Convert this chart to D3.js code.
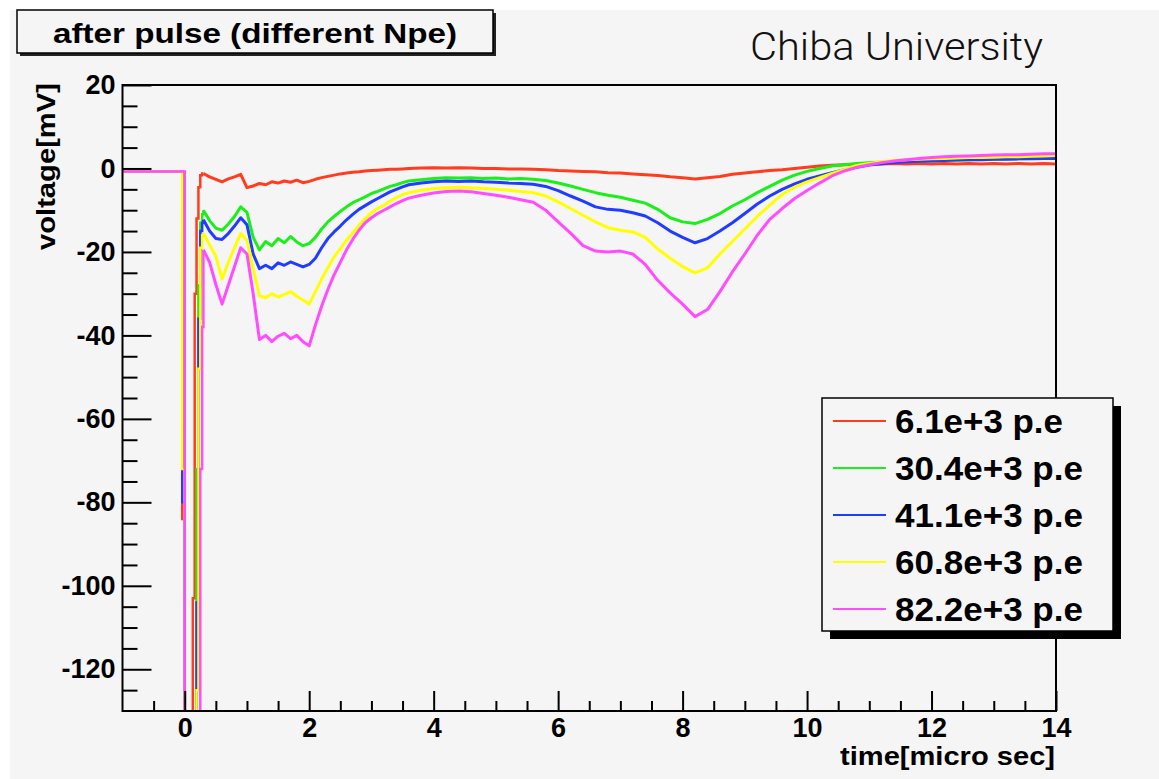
<!DOCTYPE html>
<html>
<head>
<meta charset="utf-8">
<script src="https://cdn.jsdelivr.net/npm/d3@7"></script>
<style>
  html, body { margin: 0; padding: 0; background: #fff; }
  svg { display: block; }
</style>
</head>
<body>
<div id="chart"></div>
<script>
// Serien: Namen, Farben
const seriesNames = ['6.1e+3 p.e', '30.4e+3 p.e', '41.1e+3 p.e', '60.8e+3 p.e', '82.2e+3 p.e'];
const seriesColors = ['#ff3c1e', '#1aef1a', '#1f3cff', '#ffff00', '#ff4cff'];

// Achsen
const xDomain = [-1, 14];
const yDomain = [-130, 20];
const xTicks = [0, 2, 4, 6, 8, 10, 12, 14];
const yTicks = [20, 0, -20, -40, -60, -80, -100, -120];

// Pulsbereich (Stufen), -200 = ausserhalb des Bildes
const pulseTime = [-1.0, -0.04, 0.0, 0.13, 0.16, 0.19, 0.22, 0.25, 0.28];
const pulseRed = [-0.7, -84, -200, -103, -30, -12, -4.5, -1.6, -1.2];
const pulseGreen = [-0.7, -62, -200, -200, -200, -72, -28, -13, -11];
const pulseBlue = [-0.7, -80, -200, -200, -200, -104, -36, -15, -13];
const pulseYellow = [-0.7, -72, -200, -200, -200, -125, -48, -19, -16];
const pulseMagenta = [-0.7, -0.7, -200, -200, -200, -200, -200, -72, -38];

// Nachpulse (micro sec / mV)
const bodyTime = [0.3, 0.4, 0.5, 0.6, 0.7, 0.8, 0.9, 1.0, 1.1, 1.2, 1.3, 1.4, 1.5, 1.6, 1.7, 1.8, 1.9, 2.0, 2.1, 2.2,
  2.3, 2.4, 2.5, 2.6, 2.7, 2.8, 2.9, 3.0, 3.1, 3.2, 3.3, 3.4, 3.5, 3.6,
  3.8, 4.0, 4.2, 4.4, 4.6, 4.8, 5.0, 5.2, 5.4, 5.6, 5.8, 6.0, 6.2, 6.4, 6.6, 6.8, 7.0, 7.2, 7.4, 7.6, 7.8, 8.0,
  8.2, 8.4, 8.6, 8.8, 9.0, 9.2, 9.4, 9.6, 9.8, 10.0, 10.2, 10.4, 10.6, 10.8, 11.0, 11.2, 11.4, 11.6, 11.8, 12.0,
  12.2, 12.4, 12.6, 12.8, 13.0, 13.2, 13.4, 13.6, 13.8, 14.0];
const bodyRed = [-1.2, -2.0, -2.6, -3.2, -2.5, -2.0, -1.4, -4.6, -4.2, -3.6, -3.9, -3.2, -3.5, -3.0, -3.3, -2.8, -3.4, -3.1, -2.6, -2.2,
  -1.9, -1.6, -1.3, -1.1, -0.9, -0.8, -0.6, -0.5, -0.4, -0.3, -0.2, -0.2, -0.1, 0.0,
  0.1, 0.2, 0.1, 0.2, 0.1, 0.0, 0.0, -0.1, -0.1, -0.2, -0.3, -0.5, -0.6, -0.7, -0.8, -1.0, -1.1, -1.3, -1.5, -1.7, -2.0, -2.2,
  -2.5, -2.2, -1.9, -1.4, -1.1, -0.8, -0.5, -0.3, 0.0, 0.3, 0.6, 0.8, 0.9, 1.0, 1.1, 1.1, 1.2, 1.1, 1.2, 1.1,
  1.2, 1.1, 1.2, 1.1, 1.2, 1.1, 1.2, 1.1, 1.2, 1.1];
const bodyGreen = [-10, -12.5, -14.3, -14.8, -13.3, -11.5, -9.2, -10.5, -16.5, -19.5, -17.5, -18.5, -16.8, -17.8, -16.3, -17.6, -18.5, -18.0, -16.5, -14.5,
  -12.8, -11.5, -10.3, -9.2, -8.2, -7.5, -6.8, -6.0, -5.5, -4.9, -4.3, -3.9, -3.4, -3.0,
  -2.7, -2.4, -2.2, -2.3, -2.2, -2.4, -2.3, -2.5, -2.4, -2.6, -2.9, -3.5, -4.2, -5.0, -5.8, -6.4, -6.9, -7.6, -8.3, -9.8, -11.8, -12.8,
  -13.2, -12.2, -10.8, -9.0, -7.5, -5.8, -4.3, -2.8, -1.6, -0.7, 0.0, 0.6, 0.9, 1.2, 1.4, 1.5, 1.6, 1.7, 1.8, 1.9,
  2.0, 2.0, 2.1, 2.2, 2.2, 2.3, 2.3, 2.4, 2.4, 2.5];
const bodyBlue = [-12.3, -15, -16.8, -17.0, -15.6, -13.8, -11.8, -13.5, -20.5, -24.0, -23.2, -24.0, -22.6, -23.2, -22.4, -23.0, -23.6, -23.0, -21.5, -19.0,
  -16.8, -15.2, -13.8, -12.3, -11.0, -9.8, -8.9, -8.0, -7.2, -6.4, -5.6, -5.0, -4.4, -3.9,
  -3.5, -3.2, -3.0, -3.1, -3.0, -3.2, -3.3, -3.5, -3.6, -3.8, -4.3, -5.3, -6.6, -7.8, -9.2, -9.8, -10.0, -10.6, -11.4, -13.0, -15.0, -16.5,
  -17.8, -16.8, -15.0, -13.0, -10.8, -8.5, -6.6, -5.0, -3.7, -2.6, -1.8, -1.0, -0.3, 0.3, 0.8, 1.1, 1.4, 1.6, 1.7, 1.8,
  1.9, 2.0, 2.1, 2.1, 2.2, 2.2, 2.3, 2.3, 2.4, 2.4];
const bodyYellow = [-15.5, -18.3, -21.0, -26.5, -22.5, -19.0, -15.6, -17.2, -24.0, -30.5, -31.0, -30.0, -30.8, -30.2, -29.5, -30.6, -31.5, -32.5, -29.5, -26.5,
  -23.8, -21.2, -19.2, -17.2, -15.4, -13.6, -12.0, -10.6, -9.6, -8.8, -7.8, -7.0, -6.3, -5.8,
  -5.2, -4.8, -4.6, -4.5, -4.6, -4.8, -5.0, -5.2, -5.5, -5.8, -6.6, -8.0, -9.6, -11.2, -12.8, -14.2, -14.8, -15.2, -16.5, -19.3, -21.5, -23.5,
  -25.0, -23.8, -20.5, -17.5, -14.5, -11.5, -8.8, -6.2, -4.5, -3.2, -2.2, -1.2, -0.2, 0.7, 1.2, 1.6, 1.9, 2.1, 2.2, 2.3,
  2.4, 2.5, 2.6, 2.6, 2.7, 2.8, 2.8, 2.9, 3.0, 3.1];
const bodyMagenta = [-19.5, -22.5, -27.8, -32.5, -28.0, -23.5, -19.0, -20.5, -30.0, -41.0, -40.0, -41.5, -40.2, -39.5, -40.8, -40.0, -41.5, -42.5, -37.5, -33.0,
  -29.0, -25.5, -22.5, -19.5, -17.0, -14.8, -13.0, -11.8, -10.8, -10.0, -9.2, -8.4, -7.7, -7.1,
  -6.4, -5.9, -5.5, -5.4, -5.6, -6.0, -6.4, -6.9, -7.5, -8.1, -10.0, -12.8, -15.5, -18.5, -19.8, -20.0, -19.8, -20.5, -23.0, -26.8, -29.8, -32.5,
  -35.5, -33.8, -29.5, -24.8, -20.5, -16.0, -12.2, -9.6, -7.2, -5.3, -3.5, -1.8, -0.6, 0.3, 0.9, 1.4, 1.8, 2.1, 2.4, 2.6,
  2.8, 2.9, 3.0, 3.1, 3.2, 3.3, 3.3, 3.4, 3.5, 3.5];

const pulseValues = [pulseRed, pulseGreen, pulseBlue, pulseYellow, pulseMagenta];
const bodyValues = [bodyRed, bodyGreen, bodyBlue, bodyYellow, bodyMagenta];

const series = seriesNames.map((name, i) => ({
  name,
  color: seriesColors[i],
  pulse: pulseTime.map((t, j) => [t, pulseValues[i][j]]).concat([[bodyTime[0], bodyValues[i][0]]]),
  body: bodyTime.map((t, j) => [t, bodyValues[i][j]]),
}));

const width = 1159;
const height = 779;
const frame = {left: 122.5, right: 1056, top: 85, bottom: 711};
const boldFont = '"Liberation Sans", Arial, Helvetica, sans-serif';

const svg = d3.select('#chart').append('svg')
  .attr('width', width)
  .attr('height', height);

// Hintergrund
svg.append('rect').attr('x', 10).attr('y', 10).attr('width', width - 10).attr('height', height - 10).attr('fill', '#f5f5f5');

const x = d3.scaleLinear().domain(xDomain).range([frame.left, frame.right]);
const y = d3.scaleLinear().domain(yDomain).range([frame.bottom, frame.top]);

svg.append('clipPath').attr('id', 'plot-clip')
  .append('rect')
  .attr('x', frame.left).attr('y', frame.top)
  .attr('width', frame.right - frame.left).attr('height', frame.bottom - frame.top);

// Kurven
const plot = svg.append('g').attr('clip-path', 'url(#plot-clip)');
const stepLine = d3.line().x(d => x(d[0])).y(d => y(d[1])).curve(d3.curveStepAfter);
const line = d3.line().x(d => x(d[0])).y(d => y(d[1]));

series.forEach(s => {
  const g = plot.append('g').attr('fill', 'none').attr('stroke', s.color);
  g.append('path').attr('stroke-width', 2.5).attr('d', stepLine(s.pulse));
  g.append('path').attr('stroke-width', 3).attr('stroke-linejoin', 'round').attr('d', line(s.body));
});

// Achsen (Ticks nach innen, wie ROOT)
const yMinor = d3.range(yDomain[0] + 5, yDomain[1], 5).filter(v => !yTicks.includes(v));
const xMinor = d3.range(xDomain[0] + 0.5, xDomain[1], 0.5).filter(v => !xTicks.includes(v));

const styleAxis = sel => {
  sel.select('.domain').remove();
  sel.selectAll('line').attr('stroke', '#000').attr('stroke-width', 2);
  sel.selectAll('text')
    .attr('fill', '#000')
    .style('font-family', boldFont)
    .style('font-weight', 'bold')
    .style('font-size', '27px');
};

svg.append('g').attr('transform', `translate(${frame.left},0)`)
  .call(d3.axisLeft(y).tickValues(yMinor).tickSize(-15).tickFormat(''))
  .call(styleAxis);
svg.append('g').attr('transform', `translate(${frame.left},0)`)
  .call(d3.axisLeft(y).tickValues(yTicks).tickSize(-29).tickPadding(7).tickFormat(d => String(d)))
  .call(styleAxis);

svg.append('g').attr('transform', `translate(0,${frame.bottom})`)
  .call(d3.axisBottom(x).tickValues(xMinor).tickSize(-10).tickFormat(''))
  .call(styleAxis);
svg.append('g').attr('transform', `translate(0,${frame.bottom})`)
  .call(d3.axisBottom(x).tickValues(xTicks).tickSize(-20).tickPadding(7).tickFormat(d => String(d)))
  .call(styleAxis);

// Rahmen
svg.append('rect')
  .attr('x', frame.left).attr('y', frame.top)
  .attr('width', frame.right - frame.left).attr('height', frame.bottom - frame.top)
  .attr('fill', 'none').attr('stroke', '#000').attr('stroke-width', 2);

// Achsentitel
svg.append('text')
  .attr('transform', 'translate(55,250) rotate(-90)')
  .attr('textLength', 167).attr('lengthAdjust', 'spacingAndGlyphs')
  .style('font-family', boldFont).style('font-weight', 'bold').style('font-size', '25px')
  .text('voltage[mV]');

svg.append('text')
  .attr('x', 1055).attr('y', 765)
  .attr('text-anchor', 'end')
  .attr('textLength', 215).attr('lengthAdjust', 'spacingAndGlyphs')
  .style('font-family', boldFont).style('font-weight', 'bold').style('font-size', '26px')
  .text('time[micro sec]');

// Titelbox
svg.append('rect').attr('x', 20).attr('y', 13).attr('width', 476).attr('height', 43).attr('fill', '#222');
svg.append('rect').attr('x', 17).attr('y', 10).attr('width', 476).attr('height', 43)
  .attr('fill', '#f5f5f5').attr('stroke', '#000').attr('stroke-width', 1.5);
svg.append('text')
  .attr('x', 255).attr('y', 43)
  .attr('text-anchor', 'middle')
  .attr('textLength', 404).attr('lengthAdjust', 'spacingAndGlyphs')
  .style('font-family', boldFont).style('font-weight', 'bold').style('font-size', '27px')
  .text('after pulse (different Npe)');

svg.append('text')
  .attr('x', 750).attr('y', 60)
  .attr('textLength', 293).attr('lengthAdjust', 'spacingAndGlyphs')
  .attr('fill', '#111')
  .style('font-family', 'Roboto, "Open Sans", sans-serif').style('font-weight', 300).style('font-size', '39px')
  .text('Chiba University');

// Legende
const legend = {x: 822, y: 398, w: 291, h: 233};
const legendTextLength = [168, 188, 188, 188, 188];
svg.append('rect').attr('x', legend.x + 8).attr('y', legend.y + 8).attr('width', legend.w).attr('height', legend.h).attr('fill', '#000');
svg.append('rect').attr('x', legend.x).attr('y', legend.y).attr('width', legend.w).attr('height', legend.h)
  .attr('fill', '#f5f5f5').attr('stroke', '#000').attr('stroke-width', 1.5);

const rowY = d3.scalePoint().domain(seriesNames).range([421, 609]);
const entry = svg.append('g').selectAll('g')
  .data(series)
  .join('g')
  .attr('transform', d => `translate(0,${rowY(d.name)})`);
entry.append('line')
  .attr('x1', 833).attr('x2', 886)
  .attr('stroke', d => d.color).attr('stroke-width', 2);
entry.append('text')
  .attr('x', 895).attr('y', 12)
  .attr('textLength', (d, i) => legendTextLength[i]).attr('lengthAdjust', 'spacingAndGlyphs')
  .style('font-family', boldFont).style('font-weight', 'bold').style('font-size', '33px')
  .text(d => d.name);
</script>
</body>
</html>
